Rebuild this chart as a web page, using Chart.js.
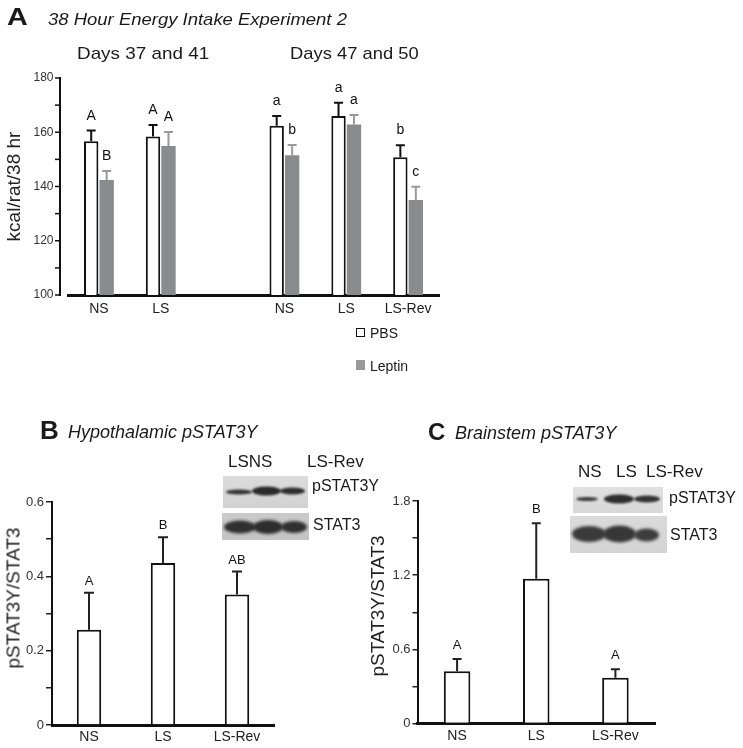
<!DOCTYPE html>
<html><head><meta charset="utf-8">
<script src="https://cdn.jsdelivr.net/npm/chart.js@4/dist/chart.umd.min.js"></script>
<style>
html,body{margin:0;padding:0;background:#fff;}
body{width:743px;height:748px;position:relative;overflow:hidden;font-family:"Liberation Sans",Arial,sans-serif;color:#1a1a1a;}
canvas.full{position:absolute;left:0;top:0;}
.t{position:absolute;line-height:1;white-space:nowrap;transform-origin:0 0;}
.b{font-weight:bold;}
.i{font-style:italic;}
.rot{transform:translate(-50%,-50%) rotate(-90deg);transform-origin:50% 50%;color:#222;}
.box{position:absolute;width:9px;height:9px;box-sizing:border-box;}
</style></head><body>
<canvas id="blots" class="full" width="743" height="748"></canvas>
<canvas id="chartA" class="full" width="743" height="748"></canvas>
<canvas id="chartB" class="full" width="743" height="748"></canvas>
<canvas id="chartC" class="full" width="743" height="748"></canvas>

<div class="t b" style="left:7px;top:5px;font-size:24px;transform:scaleX(1.2);">A</div>
<div class="t i" style="left:48px;top:11px;font-size:17px;transform:scaleX(1.087);">38 Hour Energy Intake Experiment 2</div>
<div class="t" style="left:77px;top:45px;font-size:17px;transform:scaleX(1.11);">Days 37 and 41</div>
<div class="t" style="left:290px;top:45px;font-size:17px;transform:scaleX(1.08);">Days 47 and 50</div>
<div class="box" style="left:356px;top:328px;border:1.5px solid #111;background:#fff;"></div>
<div class="t" style="left:370px;top:326px;font-size:14px;">PBS</div>
<div class="box" style="left:356px;top:360px;background:#999;height:10px;"></div>
<div class="t" style="left:370px;top:359px;font-size:14px;">Leptin</div>

<div class="t b" style="left:40px;top:417px;font-size:26px;">B</div>
<div class="t i" style="left:68px;top:423px;font-size:18px;">Hypothalamic pSTAT3Y</div>
<div class="t" style="left:228px;top:453px;font-size:17px;">LSNS</div>
<div class="t" style="left:307px;top:453px;font-size:17px;">LS-Rev</div>
<div class="t" style="left:312px;top:478px;font-size:16px;">pSTAT3Y</div>
<div class="t" style="left:313px;top:517px;font-size:16px;">STAT3</div>
<div class="t rot" style="left:13px;top:598px;font-size:19px;">pSTAT3Y/STAT3</div>

<div class="t b" style="left:428px;top:420px;font-size:24px;">C</div>
<div class="t i" style="left:455px;top:424px;font-size:18px;">Brainstem pSTAT3Y</div>
<div class="t" style="left:578px;top:463px;font-size:17px;">NS</div>
<div class="t" style="left:616px;top:463px;font-size:17px;">LS</div>
<div class="t" style="left:646px;top:463px;font-size:17px;">LS-Rev</div>
<div class="t" style="left:669px;top:490px;font-size:16px;">pSTAT3Y</div>
<div class="t" style="left:670px;top:527px;font-size:16px;">STAT3</div>
<div class="t rot" style="left:377px;top:606px;font-size:19px;">pSTAT3Y/STAT3</div>

<script>
// ---------- Panel A data ----------
const categoriesA = ['NS', 'LS', '', 'NS', 'LS', 'LS-Rev'];
const pbsA        = [156.7, 158.4, null, 162.4, 166.0, 150.8];
const pbsErrA     = [3.9, 4.3, null, 3.6, 4.9, 4.4];
const pbsLettersA = ['A', 'A', '', 'a', 'a', 'b'];
const leptinA        = [142.4, 154.9, null, 151.5, 162.9, 135.0];
const leptinErrA     = [3.3, 5.2, null, 3.8, 3.5, 4.9];
const leptinLettersA = ['B', 'A', '', 'b', 'a', 'c'];
const labeledTicksA  = [100, 120, 140, 160, 180];

// ---------- Panel B data ----------
const categoriesB = ['NS', 'LS', 'LS-Rev'];
const valuesB     = [0.256, 0.436, 0.351];
const errorsB     = [0.100, 0.069, 0.062];
const lettersB    = ['A', 'B', 'AB'];
const labeledTicksB = [0, 0.2, 0.4, 0.6];

// ---------- Panel C data ----------
const categoriesC = ['NS', 'LS', 'LS-Rev'];
const valuesC     = [0.422, 1.171, 0.371];
const errorsC     = [0.100, 0.449, 0.067];
const lettersC    = ['A', 'B', 'A'];
const labeledTicksC = [0, 0.6, 1.2, 1.8];

const FONT = '"Liberation Sans", Arial, sans-serif';
Chart.defaults.font.family = FONT;
Chart.defaults.color = '#222';

function isLabeled(list, v) { return list.some(t => Math.abs(t - v) < 1e-6); }
function fmt(v) { return Math.abs(v) < 1e-9 ? '0' : (Math.abs(v - Math.round(v)) < 1e-9 ? String(Math.round(v)) : v.toFixed(1)); }

const errorBarPlugin = {
  id: 'errbars',
  afterDatasetsDraw(chart, args, opts) {
    const ctx = chart.ctx, ys = chart.scales.y;
    chart.data.datasets.forEach((ds, di) => {
      if (!ds.errors) return;
      const meta = chart.getDatasetMeta(di);
      meta.data.forEach((el, i) => {
        const v = ds.data[i], e = ds.errors[i];
        if (v == null || e == null) return;
        const yTop = ys.getPixelForValue(v + e);
        ctx.save();
        ctx.strokeStyle = ds.errColor; ctx.lineWidth = ds.errWidth;
        ctx.lineCap = 'butt';
        ctx.beginPath();
        ctx.moveTo(el.x, el.y); ctx.lineTo(el.x, yTop);
        ctx.moveTo(el.x - ds.capHalf, yTop); ctx.lineTo(el.x + ds.capHalf, yTop);
        ctx.stroke();
        if (ds.letters && ds.letters[i]) {
          ctx.fillStyle = '#111';
          ctx.font = (opts.letterSize || 13) + 'px ' + FONT;
          ctx.textAlign = 'center'; ctx.textBaseline = 'alphabetic';
          ctx.fillText(ds.letters[i], el.x, yTop - (opts.gap || 10));
        }
        ctx.restore();
      });
    });
  }
};

// y axis drawn slightly left of the plotting area (panel A style)
const offsetYAxisPlugin = {
  id: 'offsetY',
  afterDraw(chart, args, opts) {
    if (!opts.enabled) return;
    const ctx = chart.ctx, ys = chart.scales.y;
    const x0 = chart.chartArea.left - opts.gap;
    ctx.save();
    ctx.strokeStyle = '#111';
    ctx.lineWidth = 2;
    ctx.beginPath();
    ctx.moveTo(x0, ys.getPixelForValue(ys.max) - 1);
    ctx.lineTo(x0, ys.getPixelForValue(ys.min) + 1);
    ctx.stroke();
    ctx.lineWidth = 1.5;
    ys.ticks.forEach(t => {
      const y = ys.getPixelForValue(t.value);
      ctx.beginPath(); ctx.moveTo(x0 - 5, y); ctx.lineTo(x0, y); ctx.stroke();
    });
    ctx.restore();
  }
};
Chart.register(errorBarPlugin, offsetYAxisPlugin);

const noGridX = { display: false, drawTicks: false };

// ---------- Chart A ----------
new Chart(document.getElementById('chartA'), {
  type: 'bar',
  data: {
    labels: categoriesA,
    datasets: [
      { label: 'PBS', data: pbsA, errors: pbsErrA, letters: pbsLettersA,
        backgroundColor: '#ffffff', borderColor: '#111', borderWidth: 2,
        errColor: '#111', errWidth: 2, capHalf: 4.5,
        categoryPercentage: 0.5, barPercentage: 0.93 },
      { label: 'Leptin', data: leptinA, errors: leptinErrA, letters: leptinLettersA,
        backgroundColor: '#8a8b8d', borderWidth: 0,
        errColor: '#9a9a9a', errWidth: 2, capHalf: 4.5,
        categoryPercentage: 0.5, barPercentage: 0.93 }
    ]
  },
  options: {
    responsive: false, animation: false,
    layout: { padding: { left: 0, top: 78, right: 304, bottom: 413 } },
    plugins: { legend: { display: false }, tooltip: { enabled: false },
      errbars: { letterSize: 14, gap: 11 }, offsetY: { enabled: true, gap: 8 } },
    scales: {
      x: { grid: noGridX, border: { display: true, color: '#111', width: 3 },
           ticks: { color: '#222', font: { size: 14 }, padding: 6, maxRotation: 0, autoSkip: false },
           afterFit(s) { s.height = 40; } },
      y: { min: 100, max: 180,
           ticks: { stepSize: 10, padding: 14.5, color: '#333', font: { size: 12 },
                    callback: v => isLabeled(labeledTicksA, v) ? fmt(v) : '' },
           grid: { display: false, drawTicks: false }, border: { display: false },
           title: { display: true, text: 'kcal/rat/38 hr', color: '#222', font: { size: 19 }, padding: { top: 3, bottom: 0 } },
           afterFit(s) { s.width = 68; } }
    }
  }
});

// ---------- Chart B ----------
new Chart(document.getElementById('chartB'), {
  type: 'bar',
  data: {
    labels: categoriesB,
    datasets: [{ label: 'pSTAT3Y/STAT3', data: valuesB, errors: errorsB, letters: lettersB,
      backgroundColor: '#ffffff', borderColor: '#111', borderWidth: 2,
      errColor: '#222', errWidth: 2, capHalf: 5,
      categoryPercentage: 1, barPercentage: 0.33 }]
  },
  options: {
    responsive: false, animation: false,
    layout: { padding: { left: 0, top: 502, right: 469, bottom: 0 } },
    plugins: { legend: { display: false }, tooltip: { enabled: false }, errbars: { letterSize: 13, gap: 8 } },
    scales: {
      x: { grid: noGridX, border: { display: true, color: '#111', width: 3 },
           ticks: { color: '#222', font: { size: 14 }, padding: 4, maxRotation: 0, autoSkip: false },
           afterFit(s) { s.height = 23; } },
      y: { min: 0, max: 0.6,
           ticks: { stepSize: 0.1, padding: 2, color: '#333', font: { size: 13 },
                    callback: v => isLabeled(labeledTicksB, v) ? fmt(v) : '' },
           grid: { drawOnChartArea: false, drawTicks: true, tickLength: 6, color: '#222', lineWidth: 1.5 },
           border: { display: true, color: '#111', width: 2 },
           afterFit(s) { s.width = 52; } }
    }
  }
});

// ---------- Chart C ----------
new Chart(document.getElementById('chartC'), {
  type: 'bar',
  data: {
    labels: categoriesC,
    datasets: [{ label: 'pSTAT3Y/STAT3', data: valuesC, errors: errorsC, letters: lettersC,
      backgroundColor: '#ffffff', borderColor: '#111', borderWidth: 2,
      errColor: '#222', errWidth: 2, capHalf: 4.5,
      categoryPercentage: 1, barPercentage: 0.335 }]
  },
  options: {
    responsive: false, animation: false,
    layout: { padding: { left: 364, top: 501, right: 88, bottom: 0 } },
    plugins: { legend: { display: false }, tooltip: { enabled: false }, errbars: { letterSize: 13, gap: 10 } },
    scales: {
      x: { grid: noGridX, border: { display: true, color: '#111', width: 3 },
           ticks: { color: '#222', font: { size: 14 }, padding: 4, maxRotation: 0, autoSkip: false },
           afterFit(s) { s.height = 24.5; } },
      y: { min: 0, max: 1.8,
           ticks: { stepSize: 0.3, padding: 2, color: '#333', font: { size: 13 },
                    callback: v => isLabeled(labeledTicksC, v) ? fmt(v) : '' },
           grid: { drawOnChartArea: false, drawTicks: true, tickLength: 5, color: '#222', lineWidth: 1.5 },
           border: { display: true, color: '#111', width: 2 },
           afterFit(s) { s.width = 53.5; } }
    }
  }
});

// ---------- Western blot insets (decorative images) ----------
(function drawBlots() {
  const ctx = document.getElementById('blots').getContext('2d');
  function panel(x, y, w, h, c1, c2) {
    const g = ctx.createLinearGradient(x, y, x, y + h);
    g.addColorStop(0, c1); g.addColorStop(1, c2);
    ctx.fillStyle = g; ctx.fillRect(x, y, w, h);
  }
  function band(x0, x1, yc, h, col, blur) {
    ctx.save();
    ctx.filter = 'blur(' + blur + 'px)';
    ctx.fillStyle = col;
    ctx.beginPath();
    ctx.ellipse((x0 + x1) / 2, yc, (x1 - x0) / 2, h / 2, 0, 0, Math.PI * 2);
    ctx.fill();
    ctx.restore();
  }
  // B: pSTAT3Y
  panel(223, 476, 85, 32, '#dcdcdc', '#d2d2d2');
  band(226, 252, 492, 5, '#333', 1.2);
  band(252, 281, 491, 9, '#2a2a2a', 1.2);
  band(280, 305, 491, 7, '#2e2e2e', 1.2);
  // B: STAT3
  panel(222, 513, 87, 27, '#cacaca', '#c4c4c4');
  band(224, 256, 527, 13, '#2f2f2f', 1.5);
  band(253, 283, 527, 14, '#2c2c2c', 1.5);
  band(281, 307, 527, 12, '#303030', 1.5);
  // C: pSTAT3Y
  panel(573, 487, 90, 26, '#e0e0e0', '#d8d8d8');
  band(576, 598, 499, 4, '#3a3a3a', 1.0);
  band(604, 634, 499, 9, '#2e2e2e', 1.2);
  band(634, 660, 499, 7, '#333', 1.2);
  // C: STAT3
  panel(570, 516, 97, 37, '#dadada', '#d4d4d4');
  band(572, 606, 534, 16, '#3a3a3a', 1.8);
  band(603, 636, 534, 17, '#373737', 1.8);
  band(634, 659, 535, 13, '#3d3d3d', 1.8);
})();
</script>
</body></html>
